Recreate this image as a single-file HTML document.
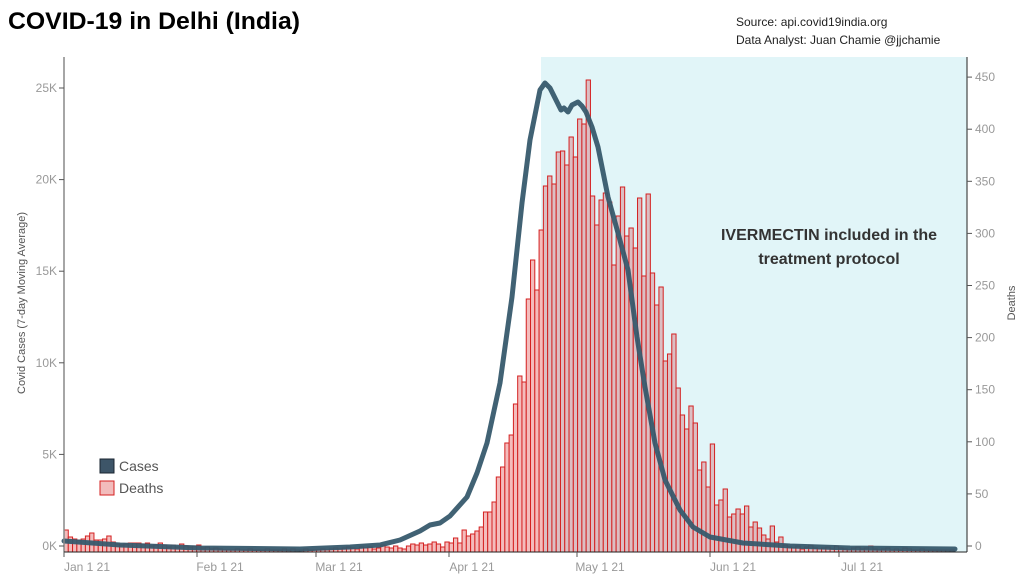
<!DOCTYPE html>
<html><head><meta charset="utf-8"><style>
body{margin:0;background:#fff;}
svg text{font-family:"Liberation Sans",sans-serif;}
</style></head><body>
<svg id="s" width="1024" height="583" xmlns="http://www.w3.org/2000/svg">
<rect x="541" y="57" width="426" height="495" fill="#e1f5f8"/>
<g id="bars"></g>
<polyline id="ln" fill="none" stroke="#375a6d" stroke-width="5" stroke-linejoin="round" stroke-linecap="round" opacity="0.95"/>
<line x1="64" y1="57" x2="64" y2="552" stroke="#888" stroke-width="1.5"/>
<line x1="64" y1="552" x2="967" y2="552" stroke="#222" stroke-width="1"/>
<line x1="967" y1="57" x2="967" y2="552" stroke="#222" stroke-width="1"/>
<g id="ticks" font-size="12" fill="#999"></g>
<text x="8" y="29" font-size="24" font-weight="bold" fill="#000" textLength="292" lengthAdjust="spacingAndGlyphs">COVID-19 in Delhi (India)</text>
<text x="736" y="26" font-size="12" fill="#222">Source: api.covid19india.org</text>
<text x="736" y="44" font-size="12" fill="#222">Data Analyst:  Juan Chamie @jjchamie</text>
<text x="829" y="240" font-size="16" font-weight="bold" fill="#333" text-anchor="middle">IVERMECTIN included in the</text>
<text x="829" y="264" font-size="16" font-weight="bold" fill="#333" text-anchor="middle">treatment protocol</text>
<text transform="translate(25,303) rotate(-90)" font-size="11" fill="#555" text-anchor="middle">Covid Cases (7-day Moving Average)</text>
<text transform="translate(1015,303) rotate(-90)" font-size="11" fill="#555" text-anchor="middle">Deaths</text>
<rect x="100" y="459" width="14" height="14" fill="#3d5568" stroke="#1a2530"/>
<text x="119" y="471" font-size="14" fill="#555">Cases</text>
<rect x="100" y="481" width="14" height="14" fill="#f2bcbc" stroke="#d42020"/>
<text x="119" y="493" font-size="14" fill="#555">Deaths</text>
</svg>
<script>
var early=[530,537,539,540,539,536,533,540,540,539,536,542,544,545,544,543,543,543,544,543,546,545,543,545,547,545,547,544,546,547,546,
545,548,547,549,548,549,550,550,550,549,550,550,549,550,550,550,549,550,550,550,549,550,549,550,550,549,550,550,
550,549,550,549,548,549,548,547,548,549,547,548,547,549,548,545,547,548,546,548,549,546,544,545,543,545,544,542,544];
var mid=[547,542,543,538,543,530,536,534,531,527,512,512,502,477,467,443,435,404,376,382,299,260,290,230,186,176,184,152,151,
165,137,157,119,124,80,196,225,200,193,202,265,216,187,236,228,248,198,276,194,273,305,
287,361,354,334,388,415,429,406,423,470,462,487,444,505,500,489,517,514,509,514,506,527,522,528,535,539,526,542,537,545];
var late=[547,548,546,549,547,545,548,549,548,547,549,546,548,549,550,548,547,549,548,546,549,550,549,548,550,549,550,548,549,550,550,549,550,550,550,550,550,550,550];
var all=early.concat(mid).concat(late);
var g='';
for(var i=0;i<all.length;i++){var x=64+4.28*i,y=all[i];if(x>958)break;
var sh=x>=540;g+='<rect x="'+x.toFixed(2)+'" y="'+y+'" width="4.28" height="'+(552-y)+'" fill="'+(sh?'#dcbec3':'#f4bcbc')+'" stroke="#d42020" stroke-width="1"/>';}
document.getElementById('bars').innerHTML=g;
var pts=[[64,541],[120,545],[200,548],[300,549],[350,547],[380,545],[400,540],[420,531],[430,525],[440,523],[450,516],[467,497],[477,473],[487,443],[500,383],[512,297],[522,203],[530,140],[536,110],[540,90],[545,83],[550,88],[557,102],[561,110],[564,108],[568,112],[572,105],[578,102],[582,106],[586,112],[592,127],[598,147],[608,197],[618,233],[628,270],[637,337],[645,387],[655,443],[665,480],[670,490],[680,510],[693,527],[710,537],[743,543],[790,546],[850,548],[955,549]];
document.getElementById('ln').setAttribute('points',pts.map(function(p){return p.join(',')}).join(' '));
var t='';
var lk=['0K','5K','10K','15K','20K','25K'];
for(var k=0;k<6;k++){var y=546-91.6*k;t+='<line x1="59" y1="'+y+'" x2="64" y2="'+y+'" stroke="#555"/><text x="57" y="'+(y+4)+'" text-anchor="end">'+lk[k]+'</text>';}
for(var k=0;k<=9;k++){var y=546-52.1*k;t+='<line x1="967" y1="'+y+'" x2="972" y2="'+y+'" stroke="#555"/><text x="975" y="'+(y+4)+'">'+(k*50)+'</text>';}
var xl=[[64,'Jan 1 21'],[197,'Feb 1 21'],[316,'Mar 1 21'],[449,'Apr 1 21'],[577,'May 1 21'],[710,'Jun 1 21'],[839,'Jul 1 21']];
xl.forEach(function(a){t+='<line x1="'+a[0]+'" y1="552" x2="'+a[0]+'" y2="557" stroke="#555"/><text x="'+(a[0]+23)+'" y="571" text-anchor="middle">'+a[1]+'</text>';});
document.getElementById('ticks').innerHTML=t;
</script>
</body></html>
